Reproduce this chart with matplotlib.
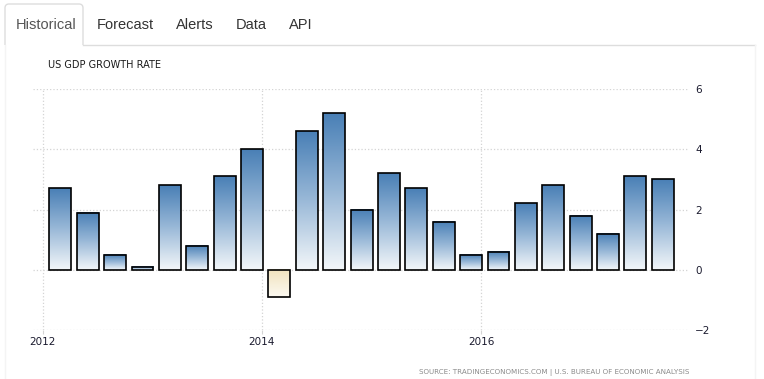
"""US GDP growth rate, quarterly bars in the tradingeconomics style."""

import matplotlib
matplotlib.use('Agg')
import matplotlib.pyplot as plt
import matplotlib.colors as mcolors
import numpy as np
from matplotlib.path import Path
from matplotlib.patches import PathPatch

quarters = ['2012Q1', '2012Q2', '2012Q3', '2012Q4',
            '2013Q1', '2013Q2', '2013Q3', '2013Q4',
            '2014Q1', '2014Q2', '2014Q3', '2014Q4',
            '2015Q1', '2015Q2', '2015Q3', '2015Q4',
            '2016Q1', '2016Q2', '2016Q3', '2016Q4',
            '2017Q1', '2017Q2', '2017Q3']
growth = [2.7, 1.9, 0.5, 0.1,
          2.8, 0.8, 3.1, 4.0,
          -0.9, 4.6, 5.2, 2.0,
          3.2, 2.7, 1.6, 0.5,
          0.6, 2.2, 2.8, 1.8,
          1.2, 3.1, 3.0]
year_ticks = [2012, 2014, 2016]
value_ticks = [-2, 0, 2, 4, 6]
tabs = ['Historical', 'Forecast', 'Alerts', 'Data', 'API']

W, H = 764, 379
fig = plt.figure(figsize=(W / 100, H / 100), dpi=100)
fig.patch.set_facecolor('white')

# Page chrome (tabs) drawn in pixel coordinates.
page = fig.add_axes((0, 0, 1, 1), zorder=0)
page.set_xlim(0, W)
page.set_ylim(H, 0)
page.axis('off')

r = 4
tab_path = Path(
    [(5, 45), (5, 4 + r), (5, 4), (5 + r, 4), (83 - r, 4), (83, 4), (83, 4 + r), (83, 45)],
    [Path.MOVETO, Path.LINETO, Path.CURVE3, Path.CURVE3,
     Path.LINETO, Path.CURVE3, Path.CURVE3, Path.LINETO])
page.add_patch(PathPatch(tab_path, fc='none', ec='#dddddd', lw=1))
page.plot([83, 755], [45, 45], color='#dddddd', lw=1)
page.plot([5, 5], [45, H], color='#f4f4f4', lw=1)
page.plot([755, 755], [45, H], color='#f4f4f4', lw=1)

tab_x = [16, 97, 176, 236, 289]
for name, tx in zip(tabs, tab_x):
    page.text(tx, 25, name, fontsize=10.5, family='Liberation Sans',
              color='#555555' if name == 'Historical' else '#333333',
              ha='left', va='center')

page.text(48, 65, 'US GDP GROWTH RATE', fontsize=7, family='DejaVu Sans',
          color='#1a1a1a', ha='left', va='center')
page.text(689, 372, 'SOURCE: TRADINGECONOMICS.COM | U.S. BUREAU OF ECONOMIC ANALYSIS',
          fontsize=5.1, family='DejaVu Sans', color='#8a8a8a',
          ha='right', va='center')

# Chart area
left, right, top, bottom = 33, 688, 89, 330
ax = fig.add_axes((left / W, 1 - bottom / H, (right - left) / W, (bottom - top) / H),
                  zorder=1)
ax.patch.set_alpha(0)

xpos = [int(q[:4]) + (int(q[-1]) - 1) * 0.25 + 0.16 for q in quarters]
width = 0.2

blue = mcolors.LinearSegmentedColormap.from_list('b', ['#f2f6f9', '#9ab9d8', '#4a80b6'])
beige = mcolors.LinearSegmentedColormap.from_list('y', ['#fcf9f1', '#f1e3be'])
grad = np.linspace(0, 1, 64).reshape(-1, 1)

for x, v in zip(xpos, growth):
    cmap = blue if v >= 0 else beige
    ax.imshow(grad, cmap=cmap, origin='lower', aspect='auto', interpolation='bilinear',
              extent=(x - width / 2, x + width / 2, min(0, v), max(0, v)), zorder=2)
ax.bar(xpos, growth, width=width, facecolor='none', edgecolor='black',
       linewidth=1.2, zorder=3)

ax.set_xlim(2011.91, 2017.89)
ax.set_ylim(-2, 6)
ax.set_xticks(year_ticks)
ax.set_xticklabels([str(y) for y in year_ticks])
ax.set_yticks(value_ticks)
ax.yaxis.tick_right()
ax.grid(True, color='#d4d4d4', linestyle=':', linewidth=0.9, zorder=0)
ax.set_axisbelow(True)
for s in ax.spines.values():
    s.set_visible(False)
ax.tick_params(axis='x', length=3, color='#d4d4d4', pad=2, labelsize=7.5,
               labelcolor='#1a1a2e')
ax.tick_params(axis='y', length=0, pad=5, labelsize=7.5, labelcolor='#1a1a2e')

fig.savefig('out.png', dpi=100, facecolor='white')
